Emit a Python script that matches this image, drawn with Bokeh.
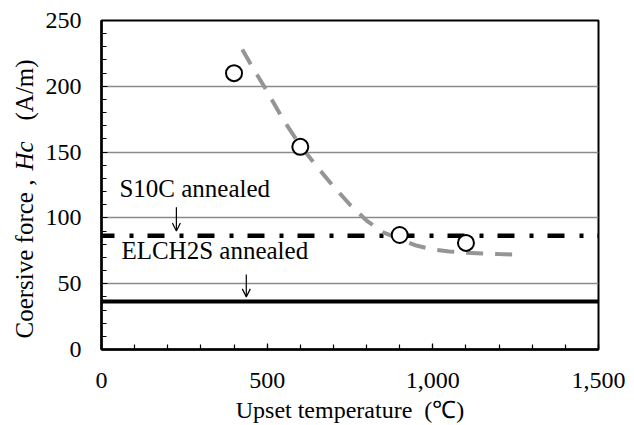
from bokeh.plotting import figure
from bokeh.layouts import row
from bokeh.models import Range1d, Label, Arrow, OpenHead, FixedTicker, NumeralTickFormatter
from bokeh.core.properties import value
from bokeh.embed import file_html
from bokeh.resources import INLINE

# ---- data ----
temp_pts = [400, 600, 900, 1100]
hc_pts = [210, 154, 87, 81]

curve_x = [425, 450, 500, 550, 600, 650, 700, 750, 800, 850, 900, 950, 1000, 1050, 1100, 1150, 1200, 1275]
curve_y = [228, 217, 196, 174, 155, 139, 124, 110, 98, 89, 84, 79, 76, 74.5, 73.5, 73, 72.5, 72]

s10c_level = 86.5
elch2s_level = 36.5
x_span = [0, 1500]

x_ticks = [0, 500, 1000, 1500]
y_ticks = [0, 50, 100, 150, 200, 250]

ann_texts = ["S10C annealed", "ELCH2S annealed"]
ann_x = [54, 60]
ann_y = [122.5, 75.5]
arrow_x = [226, 437]
arrow_y0 = [108, 57]
arrow_y1 = [90, 40]

ytitle_parts = ["Coersive force ,", "Hc", "(A/m)"]
ytitle_styles = ["normal", "italic", "normal"]

FONT = "Liberation Serif"
LEFT_W = 42
H = 425
TOP_B = 20
BOT_B = 76

# ---- y-axis title strip (coordinates: pixels from the bottom of the canvas) ----
pt = figure(width=LEFT_W, height=H, output_backend="svg", toolbar_location=None,
            x_range=Range1d(0, LEFT_W), y_range=Range1d(BOT_B, H - TOP_B),
            x_axis_location=None, y_axis_location=None,
            min_border_left=0, min_border_right=0,
            min_border_top=TOP_B, min_border_bottom=BOT_B)
pt.outline_line_color = None
pt.grid.visible = False
ytitle_pos = [87, 255, 305]
for t, st, y in zip(ytitle_parts, ytitle_styles, ytitle_pos):
    pt.text(x=[24], y=[y], text=[t], angle=1.5707963,
            text_font=value(FONT), text_font_size=value("25px"),
            text_font_style=st, text_color="black",
            text_baseline="alphabetic", text_align="left")

# ---- main chart ----
p = figure(width=634 - LEFT_W, height=H, output_backend="svg", toolbar_location=None,
           x_range=Range1d(0, 1500), y_range=Range1d(0, 250),
           min_border_left=100 - LEFT_W, min_border_right=36,
           min_border_top=TOP_B, min_border_bottom=BOT_B)

p.outline_line_color = "black"
p.outline_line_width = 2

p.xgrid.visible = False
p.ygrid.grid_line_color = "#8a8a8a"
p.ygrid.grid_line_width = 1.6
p.ygrid.ticker = FixedTicker(ticks=y_ticks)

p.xaxis.ticker = FixedTicker(ticks=x_ticks, minor_ticks=list(range(0, 1501, 100)))
p.yaxis.ticker = FixedTicker(ticks=y_ticks, minor_ticks=list(range(0, 251, 10)))
p.xaxis.formatter = NumeralTickFormatter(format="0,0")

for ax in (p.xaxis, p.yaxis):
    ax.axis_line_color = "black"
    ax.axis_line_width = 2.5
    ax.major_tick_in = 6
    ax.major_tick_out = 0
    ax.minor_tick_in = 5
    ax.minor_tick_out = 0
    ax.major_tick_line_color = "black"
    ax.minor_tick_line_color = "black"
    ax.major_tick_line_width = 1.2
    ax.minor_tick_line_width = 1.2
    ax.major_label_text_font = FONT
    ax.major_label_text_font_size = "24px"
    ax.major_label_text_color = "black"

p.yaxis.major_label_standoff = 20
p.xaxis.major_label_standoff = 23

p.xaxis.axis_label = "Upset temperature\u2002(\u2103)"
p.xaxis.axis_label_text_font = FONT
p.xaxis.axis_label_text_font_size = "24px"
p.xaxis.axis_label_text_font_style = "normal"
p.xaxis.axis_label_text_color = "black"
p.xaxis.axis_label_standoff = 6

# reference lines
p.line(x_span, [elch2s_level, elch2s_level], line_color="black", line_width=4)
p.line(x_span, [s10c_level, s10c_level], line_color="black", line_width=4.5,
       line_dash="17 15 4 14", line_dash_offset=4)

# trend curve
p.line(curve_x, curve_y, line_color="#959595", line_width=4, line_dash="17 12")

# measured points
p.scatter(temp_pts, hc_pts, size=16, marker="circle", fill_color="white",
          line_color="black", line_width=2)

# annotations
for t, x, y in zip(ann_texts, ann_x, ann_y):
    p.add_layout(Label(x=x, y=y, text=t, text_font=FONT, text_font_size="25px",
                       text_color="black", text_baseline="alphabetic", text_align="left"))
for x, y0, y1 in zip(arrow_x, arrow_y0, arrow_y1):
    p.add_layout(Arrow(end=OpenHead(size=8, line_width=1.2, line_color="black"),
                       x_start=x, y_start=y0, x_end=x, y_end=y1,
                       line_width=1.2, line_color="black"))

layout = row(pt, p)
open("out.html", "w").write(file_html(layout, INLINE))
